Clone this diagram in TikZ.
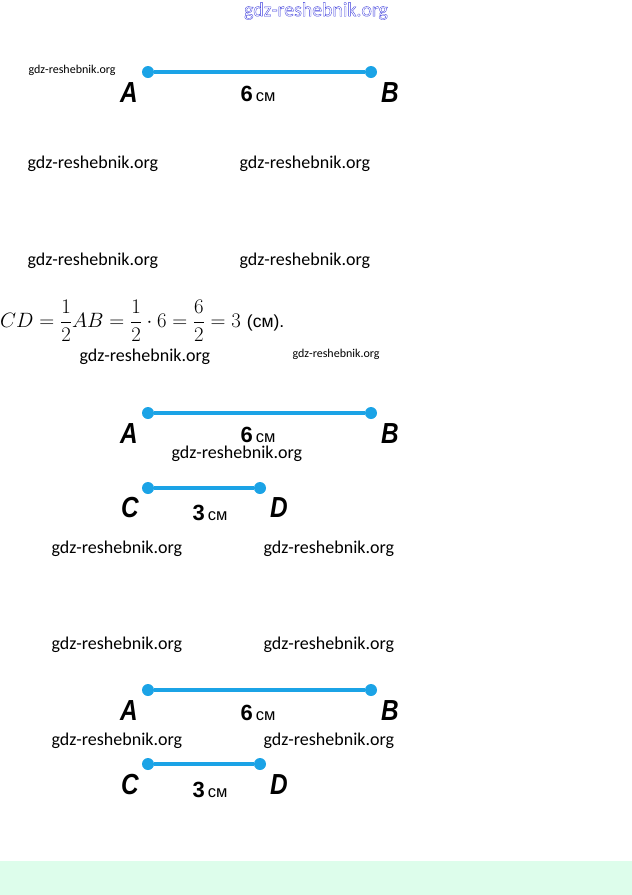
\documentclass[tikz,border=0pt]{standalone}
\usepackage{fontspec}
\setmainfont{Liberation Sans}
\newfontfamily\wmfont{Carlito}
\newfontfamily\labelfont{Liberation Sans}[FakeStretch=0.84]
\usetikzlibrary{positioning}

\definecolor{segblue}{RGB}{27,163,230}
\definecolor{wmblue}{RGB}{60,60,220}
\definecolor{bandgreen}{RGB}{221,253,235}

\newcommand{\hollow}[1]{\special{pdf:literal direct 1 Tr 0.35 w}#1\special{pdf:literal direct 0 Tr}}
\newcommand{\seglen}[1]{{\fontsize{22}{22}\selectfont\bfseries #1}\kern3pt{\fontsize{16.5}{17}\selectfont см}}

\begin{document}
\begin{tikzpicture}[x=1pt, y=-1pt,
  segment/.style={draw=segblue, line width=4pt},
  endpoint/.style={circle, fill=segblue, inner sep=0pt, minimum size=12pt},
  pointlabel/.style={anchor=base, font=\labelfont\fontsize{29}{29}\selectfont\bfseries\itshape},
  lengthlabel/.style={anchor=base, inner sep=1pt},
  watermark/.style={anchor=west, font=\wmfont\fontsize{18}{19}\selectfont},
  smallmark/.style={anchor=west, font=\wmfont\fontsize{12}{13}\selectfont}
]

\useasboundingbox (0,0) rectangle (632,895);

% Bottom band
\fill[bandgreen] (0,861) rectangle (632,895);

% Top watermark
\node[text=wmblue, font=\wmfont\fontsize{19.8}{21}\selectfont] (wm_top) at (316,11) {\hollow{gdz-reshebnik.org}};

%% FIRST SEGMENT
  \node[endpoint] (s1_a) at (148,72) {};
  \node[endpoint] (s1_b) at (371,72) {};
  \draw[segment] (s1_a) -- (s1_b);

  \node[pointlabel] (s1_la) at (129,102) {A};
  \node[pointlabel] (s1_lb) at (390,102) {B};
  \node[lengthlabel] (s1_len) at (258,101) {\seglen{6}};

  \node[smallmark] (wm_1) at (25,70) {gdz-reshebnik.org};

% Watermarks
\node[watermark] (wm_2) at (24,164) {gdz-reshebnik.org};
\node[watermark] (wm_3) at (236,164) {gdz-reshebnik.org};
\node[watermark] (wm_4) at (24,261) {gdz-reshebnik.org};
\node[watermark] (wm_5) at (236,261) {gdz-reshebnik.org};

%% FORMULA
  \node[anchor=west, inner sep=0pt, font=\fontsize{22}{24}\selectfont] (calc) at (0,321)
    {$\displaystyle CD=\frac{1}{2}AB=\frac{1}{2}\cdot 6=\frac{6}{2}=3$ {\fontsize{17.5}{18}\selectfont (см).}};

  \node[watermark] (wm_6) at (76,357) {gdz-reshebnik.org};
  \node[smallmark] (wm_7) at (289,354) {gdz-reshebnik.org};

%% SECOND SEGMENTS
  \node[endpoint] (s2_a) at (148,413) {};
  \node[endpoint] (s2_b) at (371,413) {};
  \draw[segment] (s2_a) -- (s2_b);

  \node[pointlabel] (s2_la) at (129,443) {A};
  \node[pointlabel] (s2_lb) at (390,443) {B};
  \node[lengthlabel] (s2_len) at (258,442) {\seglen{6}};

  \node[watermark, inner ysep=1pt] (wm_8) at (168,454) {gdz-reshebnik.org};

  \node[endpoint] (s2_c) at (148,488) {};
  \node[endpoint] (s2_d) at (260,488) {};
  \draw[segment] (s2_c) -- (s2_d);

  \node[pointlabel] (s2_lc) at (130,517) {C};
  \node[pointlabel] (s2_ld) at (279,517) {D};
  \node[lengthlabel] (s2_cd) at (210,520) {\seglen{3}};

% Watermarks
\node[watermark] (wm_9) at (48,549) {gdz-reshebnik.org};
\node[watermark] (wm_10) at (260,549) {gdz-reshebnik.org};
\node[watermark] (wm_11) at (48,645) {gdz-reshebnik.org};
\node[watermark] (wm_12) at (260,645) {gdz-reshebnik.org};

%% THIRD SEGMENTS
  \node[endpoint] (s3_a) at (148,690) {};
  \node[endpoint] (s3_b) at (371,690) {};
  \draw[segment] (s3_a) -- (s3_b);

  \node[pointlabel] (s3_la) at (129,720) {A};
  \node[pointlabel] (s3_lb) at (390,720) {B};
  \node[lengthlabel] (s3_len) at (258,720) {\seglen{6}};

  \node[watermark] (wm_13) at (48,741) {gdz-reshebnik.org};
  \node[watermark] (wm_14) at (260,741) {gdz-reshebnik.org};

  \node[endpoint] (s3_c) at (148,764) {};
  \node[endpoint] (s3_d) at (260,764) {};
  \draw[segment] (s3_c) -- (s3_d);

  \node[pointlabel] (s3_lc) at (130,794) {C};
  \node[pointlabel] (s3_ld) at (279,794) {D};
  \node[lengthlabel] (s3_cd) at (210,797) {\seglen{3}};

\end{tikzpicture}
\end{document}
